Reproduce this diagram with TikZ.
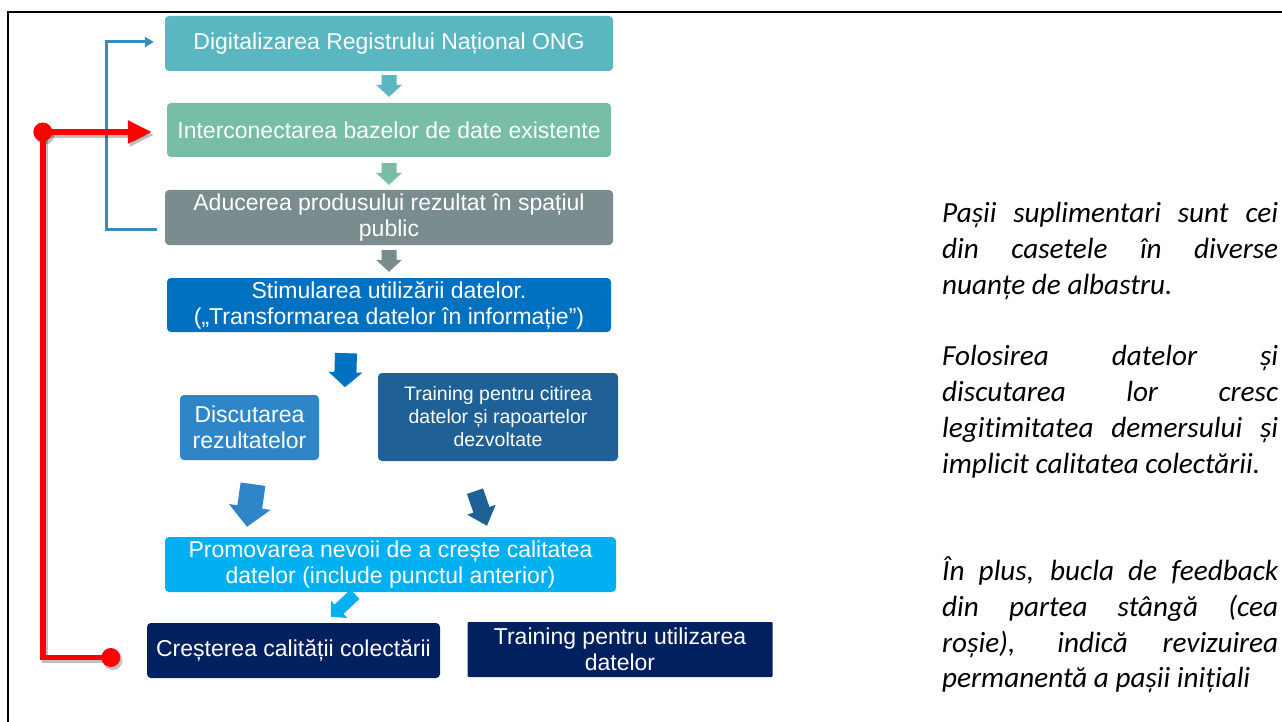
\documentclass[tikz,border=0pt]{standalone}
\usepackage{fontspec}
\setmainfont{Liberation Sans}
\newfontfamily\carl[Ligatures=CommonOff]{Carlito}
\usetikzlibrary{arrows.meta,calc}
\definecolor{cA}{HTML}{5AB6C1}
\definecolor{cB}{HTML}{78BEA5}
\definecolor{cC}{HTML}{7A8C8E}
\definecolor{cD}{HTML}{0070C0}
\definecolor{cE}{HTML}{2E86C9}
\definecolor{cF}{HTML}{1F6096}
\definecolor{cG}{HTML}{00B0F0}
\definecolor{cH}{HTML}{002060}
\definecolor{brk}{HTML}{3A8CBA}
\definecolor{loopred}{HTML}{FF0000}
\newcommand\blockarrow[6]{% color, from, to, shaft half width, head half width, head length
  \path ($(#3)!#6!(#2)$) coordinate (hb);
  \fill[#1] ($(#2)!#4!90:(#3)$) -- ($(hb)!#4!90:(#3)$) -- ($(hb)!#5!90:(#3)$) -- (#3)
    -- ($(hb)!#5!-90:(#3)$) -- ($(hb)!#4!-90:(#3)$) -- ($(#2)!#4!-90:(#3)$) -- cycle;
}
\begin{document}
\begin{tikzpicture}[x=1pt, y=-1pt,
  box/.style={rounded corners=4pt, text=white, align=center, inner sep=0pt,
    font=\fontsize{23}{26}\selectfont},
  redln/.style={line width=5.5pt, draw=loopred, line join=miter},
  shadowln/.style={line width=5.5pt, draw=black, opacity=0.25, line join=miter}]
\useasboundingbox (0,0) rectangle (1282,722);
\fill[white] (0,0) rectangle (1282,722);
\draw[line width=2pt] (8,722) -- (8,12) -- (1282,12);

% boxes
\node[box, fill=cA, minimum width=448pt, minimum height=55pt] (b1) at (389,43.5) {Digitalizarea Registrului Național ONG};
\node[box, fill=cB, minimum width=444pt, minimum height=54pt] (b2) at (389,130) {Interconectarea bazelor de date existente};
\node[box, fill=cC, minimum width=448pt, minimum height=55pt] (b3) at (389,217.5) {Aducerea produsului rezultat în spațiul\\public};
\node[box, fill=cD, minimum width=444pt, minimum height=54pt] (b4) at (389,305) {Stimularea utilizării datelor.\\(„Transformarea datelor în informație”)};
\node[box, fill=cE, minimum width=139pt, minimum height=65pt] (b5) at (249.5,427.5) {Discutarea\\rezultatelor};
\node[box, fill=cF, minimum width=240pt, minimum height=88pt, font=\fontsize{19.5}{23}\selectfont] (b6) at (498,417) {Training pentru citirea\\datelor și rapoartelor\\dezvoltate};
\node[box, fill=cG, minimum width=451pt, minimum height=55pt] (b7) at (390.5,564.5) {Promovarea nevoii de a crește calitatea\\datelor (include punctul anterior)};
\node[box, fill=cH, minimum width=293pt, minimum height=55pt] (b8) at (293.5,650.5) {Creșterea calității colectării};
\node[box, fill=cH, rounded corners=1pt, minimum width=305pt, minimum height=55pt] (b9) at (620,649.5) {Training pentru utilizarea\\datelor};

% block arrows
\coordinate (a1s) at ([yshift=-4pt]b1.south);
\coordinate (a1e) at ([yshift=6pt]b2.north);
\blockarrow{cA}{a1s}{a1e}{7.5pt}{13pt}{12pt}
\coordinate (a2s) at ([yshift=-6pt]b2.south);
\coordinate (a2e) at ([yshift=5pt]b3.north);
\blockarrow{cB}{a2s}{a2e}{7.5pt}{13pt}{12pt}
\coordinate (a3s) at ([yshift=-5pt]b3.south);
\coordinate (a3e) at ([yshift=6pt]b4.north);
\blockarrow{cC}{a3s}{a3e}{7.5pt}{13pt}{12pt}
\coordinate (a4s) at ([xshift=-43pt,yshift=-21pt]b4.south);
\coordinate (a4e) at ([xshift=-44pt,yshift=-55pt]b4.south);
\blockarrow{cD}{a4s}{a4e}{11pt}{17pt}{15pt}
\coordinate (a5s) at ([xshift=3.5pt,yshift=-24pt]b5.south);
\coordinate (a5e) at ([xshift=-143.5pt,yshift=10pt]b7.north);
\blockarrow{cE}{a5s}{a5e}{12.5pt}{21pt}{20pt}
\coordinate (a6s) at ([xshift=-23pt,yshift=-30pt]b6.south);
\coordinate (a6e) at ([xshift=96.5pt,yshift=11pt]b7.north);
\blockarrow{cF}{a6s}{a6e}{8.5pt}{15pt}{17pt}
\coordinate (a7s) at ([xshift=-35.5pt,yshift=-2pt]b7.south);
\coordinate (a7e) at ([xshift=37.5pt,yshift=6pt]b8.north);
\blockarrow{cG}{a7s}{a7e}{6.5pt}{12pt}{11pt}

% blue bracket
\coordinate (bs) at ([xshift=-8pt,yshift=-11.5pt]b3.west);
\coordinate (be) at ([xshift=-11pt,yshift=1.5pt]b1.west);
\draw[brk, line width=3pt, -{Triangle[length=9pt,width=10pt]}] (bs) -- ++(-50,0) |- (be);

% red feedback loop
\coordinate (rd2) at ([xshift=-36pt,yshift=-7pt]b8.west);
\coordinate (rend) at ([xshift=-15pt,yshift=-2pt]b2.west);
\coordinate (rc) at ($(rd2)+(-68,0)$);
\coordinate (rtop) at (rc |- rend);
\begin{scope}[transform canvas={shift={(2pt,-3pt)}}]
  \draw[shadowln, -{Triangle[length=24pt,width=22pt]}] (rd2) -- (rc) -- (rtop) -- (rend);
  \fill[black, opacity=0.25] (rd2) circle[radius=9.5pt] (rtop) circle[radius=9.5pt];
\end{scope}
\draw[redln, -{Triangle[length=24pt,width=22pt]}] (rd2) -- (rc) -- (rtop) -- (rend);
\fill[loopred] (rd2) circle[radius=9.5pt];
\fill[loopred] (rtop) circle[radius=9.5pt];

% explanatory text
\node[anchor=base west, inner sep=0pt, font=\carl\itshape\fontsize{29.2}{35.8}\selectfont] (note) at (942,222.5) {\parbox[t]{336pt}{%
\makebox[336pt][s]{Pașii suplimentari sunt cei}\\
\makebox[336pt][s]{din casetele în diverse}\\
nuanțe de albastru.\\[35.8pt]
\makebox[336pt][s]{Folosirea datelor și}\\
\makebox[336pt][s]{discutarea lor cresc}\\
\makebox[336pt][s]{legitimitatea demersului și}\\
implicit calitatea colectării.\\[71.6pt]
\makebox[336pt][s]{În plus, bucla de feedback}\\
\makebox[336pt][s]{din partea stângă (cea}\\
\makebox[336pt][s]{roșie), indică revizuirea}\\
permanentă a pașii inițiali}};
\end{tikzpicture}
\end{document}
